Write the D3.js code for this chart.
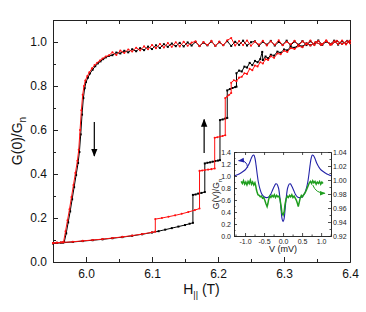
<!DOCTYPE html>
<html>
<head>
<meta charset="utf-8">
<script src="https://d3js.org/d3.v7.min.js"></script>
<style>
  body { margin: 0; background: #fff; }
  svg { display: block; font-family: "Liberation Sans", Arial, sans-serif; }
</style>
</head>
<body>
<div id="chart"></div>
<script>
// ---- main panel data: G(0)/Gn vs parallel field (T) ----

// steep part of the down sweep (field decreasing)
const blackDownSteep = [
  [5.950,0.085],[5.956,0.087],[5.962,0.088],[5.967,0.090],[5.970,0.13],[5.973,0.18],[5.976,0.23],
  [5.979,0.285],[5.982,0.34],[5.985,0.395],[5.988,0.45],[5.990,0.50],[5.992,0.58],[5.994,0.67],
  [5.996,0.745],[5.998,0.79],[6.000,0.818],[6.003,0.838],[6.006,0.857],[6.010,0.874],[6.014,0.890],
  [6.018,0.903],[6.022,0.912],[6.026,0.922],[6.030,0.930],[6.035,0.937]
];
const redDownSteep = [
  [5.950,0.086],[5.956,0.088],[5.962,0.089],[5.966,0.091],[5.969,0.14],[5.972,0.19],[5.975,0.24],
  [5.978,0.295],[5.981,0.35],[5.984,0.405],[5.987,0.46],[5.989,0.51],[5.991,0.60],[5.993,0.69],
  [5.995,0.76],[5.997,0.80],[5.999,0.825],[6.002,0.845],[6.005,0.862],[6.009,0.88],[6.013,0.895],
  [6.017,0.906],[6.021,0.916],[6.025,0.925],[6.030,0.934],[6.035,0.940]
];

// flat (normal state) part of the down sweep, shared fields
const sweepH = [
  6.040,6.046,6.052,6.058,6.064,6.070,6.076,6.082,6.088,6.094,6.100,6.106,6.112,6.118,6.124,6.130,
  6.136,6.142,6.148,6.154,6.160,6.166,6.172,6.178,6.184,6.190,6.196,6.202,6.208,6.214,6.220,6.226,
  6.232,6.238,6.244,6.250,6.256,6.262,6.268,6.274,6.280,6.286,6.292,6.298,6.304,6.310,6.316,6.322,
  6.328,6.334,6.340,6.346,6.352,6.358,6.364,6.370,6.376,6.382,6.388,6.394,6.400
];
const blackDownFlat = [
  0.940,0.952,0.948,0.960,0.953,0.967,0.958,0.972,0.963,0.979,0.968,0.985,0.973,0.990,0.978,0.993,
  0.981,0.996,0.980,0.998,0.984,1.000,0.982,0.997,0.985,1.002,0.983,0.999,0.986,1.004,0.982,1.001,
  0.987,1.006,0.984,0.999,1.003,0.983,1.001,0.988,1.005,0.984,1.000,0.987,1.006,0.985,1.002,0.988,
  1.004,0.986,1.003,0.989,1.007,0.987,1.002,0.990,1.006,0.988,1.004,0.991,1.005
];
const redDownFlat = [
  0.953,0.941,0.961,0.950,0.966,0.957,0.974,0.962,0.980,0.967,0.986,0.972,0.991,0.975,0.995,0.978,
  0.999,0.980,1.001,0.983,0.997,1.003,0.981,1.000,0.986,1.005,0.982,1.002,0.985,1.008,1.018,0.984,
  1.004,0.986,1.007,0.983,1.002,0.988,1.006,0.984,1.003,0.987,1.008,0.985,1.001,0.989,1.006,0.984,
  1.003,0.990,1.007,0.986,1.004,0.989,1.008,0.987,1.003,0.991,1.007,0.989,1.005
];

// up sweep (field increasing), with the step-like jumps
const blackUp = [
  [5.950,0.085],[5.965,0.088],[5.980,0.091],[5.995,0.095],[6.010,0.099],[6.025,0.103],[6.040,0.108],
  [6.055,0.113],[6.070,0.119],[6.085,0.126],[6.100,0.134],[6.110,0.140],[6.120,0.147],[6.130,0.154],
  [6.140,0.161],[6.150,0.168],[6.157,0.174],[6.162,0.178],
  [6.162,0.305],[6.166,0.307],[6.170,0.311],[6.175,0.314],[6.180,0.318],
  [6.180,0.448],[6.184,0.451],[6.188,0.453],[6.192,0.456],[6.196,0.459],[6.200,0.461],[6.203,0.463],
  [6.203,0.645],[6.207,0.648],[6.211,0.652],[6.214,0.655],
  [6.214,0.780],[6.218,0.786],[6.222,0.791],[6.226,0.795],[6.228,0.797],
  [6.228,0.858],[6.232,0.870],[6.236,0.866],[6.240,0.888],[6.244,0.884],[6.248,0.905],[6.252,0.895],
  [6.256,0.914],[6.260,0.908],[6.264,0.922],[6.267,0.955],[6.268,0.918],[6.272,0.934],[6.276,0.926],
  [6.280,0.942],[6.285,0.938],[6.290,0.956],[6.295,0.951],[6.300,0.966],[6.305,0.962],[6.310,0.978],
  [6.316,0.974],[6.322,0.986],[6.328,0.980],[6.334,0.994],[6.340,0.985],[6.348,0.999],[6.356,0.988],
  [6.364,1.003],[6.372,0.990],[6.380,1.004],[6.388,0.992],[6.396,1.005],[6.400,0.995]
];
const redUp = [
  [5.950,0.086],[5.965,0.089],[5.980,0.092],[5.995,0.096],[6.010,0.100],[6.025,0.104],[6.040,0.109],
  [6.055,0.114],[6.070,0.120],[6.085,0.127],[6.100,0.135],[6.105,0.138],
  [6.105,0.195],[6.115,0.200],[6.125,0.206],[6.135,0.212],[6.145,0.219],[6.155,0.227],[6.165,0.236],
  [6.172,0.243],
  [6.172,0.414],[6.176,0.416],[6.180,0.418],[6.185,0.420],[6.190,0.422],[6.195,0.425],
  [6.195,0.565],[6.199,0.567],[6.203,0.570],[6.207,0.573],[6.211,0.576],
  [6.211,0.745],[6.214,0.752],[6.217,0.760],[6.220,0.768],
  [6.220,0.815],[6.224,0.826],[6.228,0.822],[6.232,0.838],[6.236,0.842],[6.240,0.858],[6.244,0.855],
  [6.248,0.878],[6.252,0.872],[6.256,0.893],[6.260,0.889],[6.264,0.908],[6.268,0.902],[6.272,0.922],
  [6.276,0.918],[6.280,0.935],[6.285,0.928],[6.290,0.948],[6.295,0.944],[6.300,0.960],[6.305,0.955],
  [6.310,0.972],[6.316,0.968],[6.322,0.981],[6.328,0.976],[6.334,0.993],[6.340,0.984],[6.348,1.000],
  [6.356,0.987],[6.364,1.004],[6.372,0.989],[6.380,1.006],[6.388,0.991],[6.396,1.003],[6.400,0.994]
];

const xTicks = [6.0, 6.1, 6.2, 6.3, 6.4];
const xMinor = [5.95, 6.05, 6.15, 6.25, 6.35];
const yTicks = [0.0, 0.2, 0.4, 0.6, 0.8, 1.0];
const yMinor = [0.1, 0.3, 0.5, 0.7, 0.9];

// ---- inset data: G(V)/Gn vs bias (mV) ----
const blueCalc = [
  [-1.29,1.00],[-1.2,1.02],[-1.1,1.055],[-1.0,1.10],[-0.94,1.15],[-0.88,1.22],[-0.84,1.29],[-0.80,1.34],
  [-0.77,1.35],[-0.74,1.30],[-0.71,1.18],[-0.68,1.03],[-0.65,0.90],[-0.61,0.79],[-0.56,0.70],[-0.50,0.655],
  [-0.44,0.64],[-0.38,0.65],[-0.33,0.69],[-0.28,0.76],[-0.23,0.83],[-0.19,0.87],[-0.16,0.865],[-0.12,0.80],
  [-0.08,0.62],[-0.05,0.42],[-0.025,0.28],[0,0.24],
  [0.025,0.28],[0.05,0.42],[0.08,0.62],[0.12,0.80],[0.16,0.865],[0.19,0.87],[0.23,0.83],[0.28,0.76],
  [0.33,0.69],[0.38,0.65],[0.44,0.64],[0.50,0.655],[0.56,0.70],[0.61,0.79],[0.65,0.90],[0.68,1.03],
  [0.71,1.18],[0.74,1.30],[0.77,1.35],[0.80,1.34],[0.84,1.29],[0.88,1.22],[0.94,1.15],[1.0,1.10],
  [1.1,1.055],[1.2,1.02],[1.26,1.005]
];
const greenMeas = [
  [-1.10,0.998],[-1.07,0.995],[-1.04,0.999],[-1.01,0.994],[-0.98,0.997],[-0.95,0.993],[-0.92,0.998],
  [-0.89,0.995],[-0.86,1.000],[-0.83,0.994],[-0.80,0.997],[-0.77,0.993],[-0.74,0.996],[-0.72,0.992],
  [-0.70,0.986],[-0.68,0.982],[-0.66,0.979],[-0.63,0.978],[-0.60,0.976],[-0.57,0.977],[-0.54,0.974],
  [-0.51,0.975],[-0.48,0.971],[-0.45,0.966],[-0.42,0.962],[-0.40,0.966],[-0.38,0.972],[-0.35,0.977],
  [-0.32,0.975],[-0.29,0.978],[-0.26,0.976],[-0.23,0.979],[-0.20,0.975],[-0.17,0.978],[-0.14,0.976],
  [-0.11,0.977],[-0.08,0.972],[-0.05,0.962],[-0.03,0.953],[0.0,0.950],[0.03,0.955],[0.05,0.965],
  [0.08,0.973],[0.11,0.977],[0.14,0.975],[0.17,0.978],[0.20,0.976],[0.23,0.979],[0.26,0.975],
  [0.29,0.977],[0.32,0.974],[0.35,0.971],[0.38,0.966],[0.40,0.962],[0.42,0.967],[0.45,0.974],
  [0.48,0.978],[0.51,0.976],[0.54,0.979],[0.57,0.981],[0.60,0.984],[0.63,0.988],[0.66,0.992],
  [0.69,0.996],[0.72,0.998],[0.75,0.995],[0.78,0.999],[0.81,0.996],[0.84,0.998],[0.87,0.994],
  [0.90,0.997],[0.93,0.995],[0.96,0.998],[0.99,0.994],[1.02,0.997],[1.05,0.995]
];
const insetXTicks = [-1.0, -0.5, 0.0, 0.5, 1.0];
const insetXMinor = [-1.25, -0.75, -0.25, 0.25, 0.75, 1.25];
const insetLTicks = [0.0, 0.2, 0.4, 0.6, 0.8, 1.0, 1.2, 1.4];
const insetLMinor = [0.1, 0.3, 0.5, 0.7, 0.9, 1.1, 1.3];
const insetRTicks = [0.92, 0.94, 0.96, 0.98, 1.00, 1.02, 1.04];
const insetRMinor = [0.93, 0.95, 0.97, 0.99, 1.01, 1.03];

const width = 366, height = 312;
const margin = { top: 20, right: 16, bottom: 50, left: 53 };

const svg = d3.select('#chart').append('svg')
  .attr('width', width)
  .attr('height', height);

const x = d3.scaleLinear().domain([5.95, 6.4]).range([margin.left, width - margin.right]);
const y = d3.scaleLinear().domain([0, 1.1]).range([height - margin.bottom, margin.top]);

const fmt1 = v => v.toFixed(1);
const fmt2 = v => v.toFixed(2);

// arrowhead marker
const defs = svg.append('defs');
function addMarker(id, color, size) {
  defs.append('marker')
    .attr('id', id)
    .attr('viewBox', '0 0 10 10')
    .attr('refX', 9).attr('refY', 5)
    .attr('markerWidth', size).attr('markerHeight', size)
    .attr('markerUnits', 'userSpaceOnUse')
    .attr('orient', 'auto')
    .append('path')
    .attr('d', 'M0,1 L10,5 L0,9 Z')
    .attr('fill', color);
}
addMarker('headBlack', '#000', 8);
addMarker('headBlue', '#2323a8', 6);
addMarker('headGreen', '#1f9e1f', 6);

// ---- main axes ----
function tickAxis(axis, values, size, format) {
  return axis.tickValues(values).tickSizeInner(-size).tickSizeOuter(0)
    .tickFormat(format || '');
}

const gx = svg.append('g').attr('transform', `translate(0,${y(0)})`)
  .call(tickAxis(d3.axisBottom(x), xTicks, 5, fmt1).tickPadding(7));
svg.append('g').attr('transform', `translate(0,${y(0)})`)
  .call(tickAxis(d3.axisBottom(x), xMinor, 3));
svg.append('g').attr('transform', `translate(0,${y(1.1)})`)
  .call(tickAxis(d3.axisTop(x), xTicks.concat(xMinor), 4));

const gy = svg.append('g').attr('transform', `translate(${x(5.95)},0)`)
  .call(tickAxis(d3.axisLeft(y), yTicks, 5, fmt1).tickPadding(6));
svg.append('g').attr('transform', `translate(${x(5.95)},0)`)
  .call(tickAxis(d3.axisLeft(y), yMinor, 3));
svg.append('g').attr('transform', `translate(${x(6.4)},0)`)
  .call(tickAxis(d3.axisRight(y), [], 0));

svg.selectAll('.domain').attr('stroke', '#222').attr('stroke-width', 1);
svg.selectAll('.tick line').attr('stroke', '#222');
gx.selectAll('text').attr('font-size', 12).attr('fill', '#111');
gy.selectAll('text').attr('font-size', 12).attr('fill', '#111');

// axis titles
const yTitle = svg.append('text')
  .attr('transform', `translate(22,${(y(0) + y(1.1)) / 2}) rotate(-90)`)
  .attr('text-anchor', 'middle')
  .attr('font-size', 14)
  .attr('fill', '#111');
yTitle.append('tspan').text('G(0)/G');
yTitle.append('tspan').attr('dy', 4).attr('font-size', 10).text('n');

const xTitle = svg.append('text')
  .attr('x', (x(5.95) + x(6.4)) / 2)
  .attr('y', 294)
  .attr('text-anchor', 'middle')
  .attr('font-size', 14)
  .attr('fill', '#111');
xTitle.append('tspan').text('H');
xTitle.append('tspan').attr('dy', 4).attr('font-size', 9).text('||');
xTitle.append('tspan').attr('dy', -4).text(' (T)');

// ---- main data ----
const line = d3.line().x(d => x(d[0])).y(d => y(d[1]));
const dataLayer = svg.append('g');

function drawSeries(pts, color, shape) {
  dataLayer.append('path').datum(pts)
    .attr('fill', 'none')
    .attr('stroke', color)
    .attr('stroke-width', 1)
    .attr('d', line);
  if (shape === 'square') {
    dataLayer.append('g').selectAll('rect').data(pts).join('rect')
      .attr('x', d => x(d[0]) - 1).attr('y', d => y(d[1]) - 1)
      .attr('width', 2).attr('height', 2)
      .attr('fill', color);
  } else {
    dataLayer.append('g').selectAll('circle').data(pts).join('circle')
      .attr('cx', d => x(d[0])).attr('cy', d => y(d[1]))
      .attr('r', 1.05)
      .attr('fill', color);
  }
}

const blackDown = blackDownSteep.concat(d3.zip(sweepH, blackDownFlat));
const redDown = redDownSteep.concat(d3.zip(sweepH, redDownFlat));

drawSeries(blackDown, '#000', 'square');
drawSeries(blackUp, '#000', 'square');
drawSeries(redDown, '#ff1010', 'circle');
drawSeries(redUp, '#ff1010', 'circle');

// sweep direction arrows
svg.append('line')
  .attr('x1', x(6.0126)).attr('x2', x(6.0126))
  .attr('y1', y(0.636)).attr('y2', y(0.482))
  .attr('stroke', '#000').attr('stroke-width', 1.2)
  .attr('marker-end', 'url(#headBlack)');
svg.append('line')
  .attr('x1', x(6.179)).attr('x2', x(6.179))
  .attr('y1', y(0.495)).attr('y2', y(0.648))
  .attr('stroke', '#000').attr('stroke-width', 1.2)
  .attr('marker-end', 'url(#headBlack)');

// ---- inset ----
const xi = d3.scaleLinear().domain([-1.29, 1.26]).range([234, 331]);
const yiL = d3.scaleLinear().domain([0, 1.4]).range([236, 152]);
const yiR = d3.scaleLinear().domain([0.92, 1.04]).range([236, 152]);

const inset = svg.append('g');
inset.append('rect')
  .attr('x', xi.range()[0]).attr('y', yiL.range()[1])
  .attr('width', xi.range()[1] - xi.range()[0])
  .attr('height', yiL.range()[0] - yiL.range()[1])
  .attr('fill', '#fff');

inset.append('path').datum(blueCalc)
  .attr('fill', 'none')
  .attr('stroke', '#2323a8')
  .attr('stroke-width', 1.1)
  .attr('d', d3.line().curve(d3.curveCatmullRom).x(d => xi(d[0])).y(d => yiL(d[1])));

inset.append('path').datum(greenMeas)
  .attr('fill', 'none')
  .attr('stroke', '#1f9e1f')
  .attr('stroke-width', 1.5)
  .attr('d', d3.line().x(d => xi(d[0])).y(d => yiR(d[1])));

// inset axes
const insetAxes = inset.append('g').attr('font-size', 7);
insetAxes.append('g').attr('transform', `translate(0,${yiL(0)})`)
  .call(tickAxis(d3.axisBottom(xi), insetXTicks, 3, fmt1).tickPadding(3));
insetAxes.append('g').attr('transform', `translate(0,${yiL(0)})`)
  .call(tickAxis(d3.axisBottom(xi), insetXMinor, 1.5));
insetAxes.append('g').attr('transform', `translate(0,${yiL(1.4)})`)
  .call(tickAxis(d3.axisTop(xi), insetXTicks, 3));
insetAxes.append('g').attr('transform', `translate(${xi(-1.29)},0)`)
  .call(tickAxis(d3.axisLeft(yiL), insetLTicks, 3, fmt1).tickPadding(3));
insetAxes.append('g').attr('transform', `translate(${xi(-1.29)},0)`)
  .call(tickAxis(d3.axisLeft(yiL), insetLMinor, 1.5));
insetAxes.append('g').attr('transform', `translate(${xi(1.26)},0)`)
  .call(tickAxis(d3.axisRight(yiR), insetRTicks, 3, fmt2).tickPadding(2));
insetAxes.append('g').attr('transform', `translate(${xi(1.26)},0)`)
  .call(tickAxis(d3.axisRight(yiR), insetRMinor, 1.5));

insetAxes.selectAll('.domain').attr('stroke', '#222').attr('stroke-width', 0.8);
insetAxes.selectAll('.tick line').attr('stroke', '#222').attr('stroke-width', 0.8);
insetAxes.selectAll('text').attr('font-size', 7).attr('fill', '#222')
  .attr('font-family', '"Liberation Sans", Arial, sans-serif');

inset.append('text')
  .attr('x', xi(0)).attr('y', 252)
  .attr('text-anchor', 'middle')
  .attr('font-size', 9)
  .attr('fill', '#111')
  .text('V (mV)');

const yiTitle = inset.append('text')
  .attr('transform', `translate(219,${(yiL(0) + yiL(1.4)) / 2}) rotate(-90)`)
  .attr('text-anchor', 'middle')
  .attr('font-size', 8.5)
  .attr('fill', '#111');
yiTitle.append('tspan').text('G(V)/G');
yiTitle.append('tspan').attr('dy', 2.5).attr('font-size', 6).text('n');

// inset curve-to-axis arrows
inset.append('path')
  .attr('d', `M${xi(-0.93)},${yiL(1.14)} Q${xi(-0.95)},${yiL(1.27)} ${xi(-1.17)},${yiL(1.255)}`)
  .attr('fill', 'none').attr('stroke', '#2323a8').attr('stroke-width', 1)
  .attr('marker-end', 'url(#headBlue)');
inset.append('path')
  .attr('d', `M${xi(0.78)},${yiR(0.993)} Q${xi(0.86)},${yiR(0.981)} ${xi(1.1)},${yiR(0.981)}`)
  .attr('fill', 'none').attr('stroke', '#1f9e1f').attr('stroke-width', 1)
  .attr('marker-end', 'url(#headGreen)');
</script>
</body>
</html>
